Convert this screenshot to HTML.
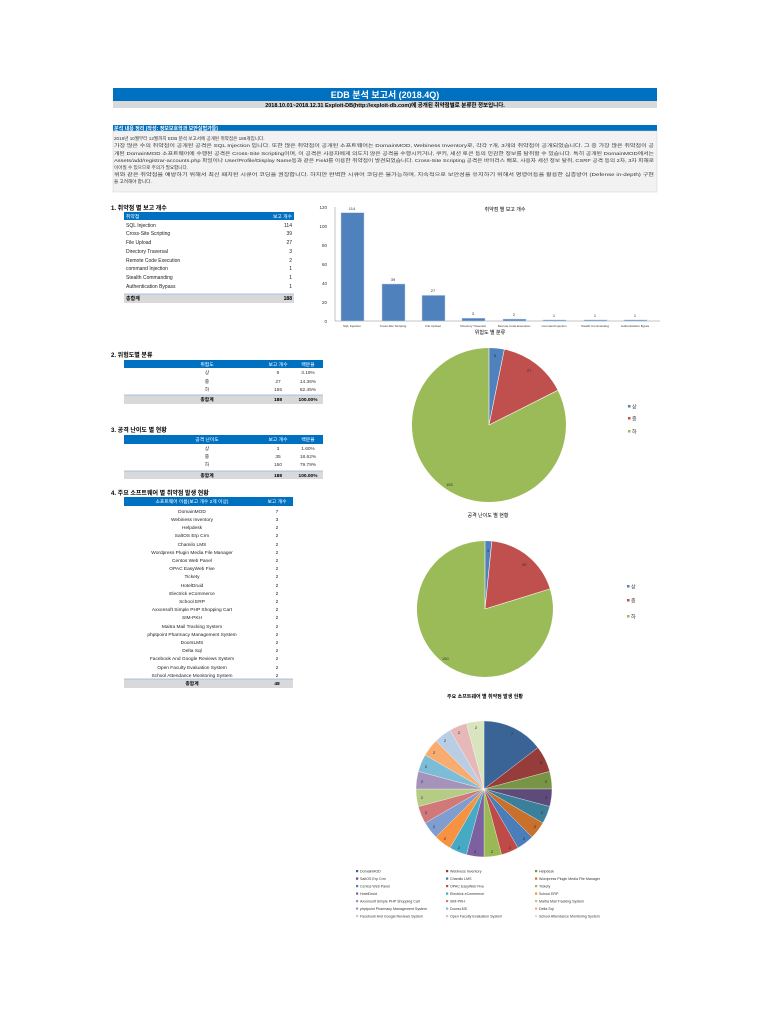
<!DOCTYPE html>
<html><head><meta charset="utf-8"><style>
html,body{margin:0;padding:0;background:#fff;}
svg{display:block;}
text{font-family:"Liberation Sans","Noto Sans CJK KR",sans-serif;}
</style></head><body>
<svg width="770" height="1024" viewBox="0 0 770 1024" xmlns="http://www.w3.org/2000/svg">
<!-- header -->
<rect x="113" y="88" width="544" height="13" fill="#0070C0"/>
<text x="385" y="98" font-size="9" fill="#fff" font-weight="bold" text-anchor="middle">EDB 분석 보고서 (2018.4Q)</text>
<rect x="113" y="101" width="544" height="7" fill="#D9D9D9"/>
<text x="385" y="107" font-size="5.5" font-weight="bold" text-anchor="middle">2018.10.01~2018.12.31 Exploit-DB(http://exploit-db.com)에 공개된 취약점별로 분류한 정보입니다.</text>
<rect x="113" y="125" width="544" height="6" fill="#0070C0"/>
<text x="114" y="130" font-size="5" fill="#fff" font-weight="bold">분석 내용 정리 (작성: 정보보호학과 보안실험가들)</text>
<rect x="113" y="131" width="544" height="61" fill="#F2F2F2" stroke="#D0D0D0" stroke-width="0.5"/>
<g font-size="4.6" fill="#333">
<text x="114" y="140">2018년 10월부터 12월까지 EDB 분석 보고서에 공개된 취약점은 188개입니다.</text>
<text x="114" y="147" textLength="540" lengthAdjust="spacingAndGlyphs">가장 많은 수의 취약점이 공개된 공격은 SQL Injection 입니다. 또한 많은 취약점이 공개된 소프트웨어는 DomainMOD, Webiness Inventory로, 각각 7개, 3개의 취약점이 공개되었습니다. 그 중 가장 많은 취약점이 공</text>
<text x="114" y="155" textLength="540" lengthAdjust="spacingAndGlyphs">개된 DomainMOD 소프트웨어에 수행된 공격은 Cross-Site Scripting이며, 이 공격은 사용자에게 의도치 않은 공격을 수행시키거나, 쿠키, 세션 토큰 등의 민감한 정보를 탈취할 수 있습니다. 특히 공개된 DomainMOD에서는</text>
<text x="114" y="162" textLength="540" lengthAdjust="spacingAndGlyphs">Assets/add/registrar-accounts.php 파일이나 User/Profile/Display Name등과 같은 Field를 이용한 취약점이 발견되었습니다. Cross-Site Scripting 공격은 바이러스 배포, 사용자 세션 정보 탈취, CSRF 공격 등의 2차, 3차 피해로</text>
<text x="114" y="169">이어질 수 있으므로 주의가 필요합니다.</text>
<text x="114" y="176" textLength="540" lengthAdjust="spacingAndGlyphs">위와 같은 취약점을 예방하기 위해서 최신 패치된 시큐어 코딩을 권장합니다. 하지만 완벽한 시큐어 코딩은 불가능하며, 지속적으로 보안성을 유지하기 위해서 명령어등을 활용한 심층방어 (Defense in-depth) 구현</text>
<text x="114" y="183">을 고려해야 합니다.</text>
</g>

<!-- table 1 -->
<text x="111" y="210" font-size="6" font-weight="bold">1. 취약점 별 보고 개수</text>
<rect x="124" y="212" width="170" height="8" fill="#0070C0"/>
<text x="126" y="218" font-size="4.8" fill="#fff">취약점</text>
<text x="292" y="218" font-size="4.8" fill="#fff" text-anchor="end">보고 개수</text>
<g font-size="5" fill="#222">
<text x="126" y="227">SQL Injection</text><text x="292" y="227" text-anchor="end">114</text>
<text x="126" y="235">Cross-Site Scripting</text><text x="292" y="235" text-anchor="end">39</text>
<text x="126" y="244">File Upload</text><text x="292" y="244" text-anchor="end">27</text>
<text x="126" y="253">Directory Traversal</text><text x="292" y="253" text-anchor="end">3</text>
<text x="126" y="262">Remote Code Execution</text><text x="292" y="262" text-anchor="end">2</text>
<text x="126" y="270">command Injection</text><text x="292" y="270" text-anchor="end">1</text>
<text x="126" y="279">Stealth Commanding</text><text x="292" y="279" text-anchor="end">1</text>
<text x="126" y="288">Authentication Bypass</text><text x="292" y="288" text-anchor="end">1</text>
</g>
<rect x="124" y="294" width="170" height="9" fill="#D9D9D9"/>
<line x1="124" y1="294" x2="294" y2="294" stroke="#8EB4E3" stroke-width="0.7"/>
<text x="126" y="300" font-size="5" font-weight="bold">총합계</text>
<text x="292" y="300" font-size="5" font-weight="bold" text-anchor="end">188</text>

<!-- bar chart -->
<text x="505" y="211" font-size="5" text-anchor="middle">취약점 별 보고 개수</text>
<g font-size="4.5" fill="#333" text-anchor="end">
<text x="327" y="209">120</text><text x="327" y="228">100</text><text x="327" y="247">80</text><text x="327" y="266">60</text><text x="327" y="285">40</text><text x="327" y="304">20</text><text x="327" y="323">0</text>
</g>
<line x1="335" y1="207" x2="335" y2="321" stroke="#888" stroke-width="0.5"/>
<line x1="335" y1="321" x2="660" y2="321" stroke="#888" stroke-width="0.5"/>
<g fill="#4F81BD" stroke="#B9CDE5" stroke-width="0.5">
<rect x="341" y="212.7" width="23" height="108.3"/>
<rect x="382" y="284" width="23" height="37"/>
<rect x="422" y="295.4" width="23" height="25.6"/>
<rect x="462" y="318.2" width="23" height="2.8"/>
<rect x="503" y="319.1" width="23" height="1.9"/>
<rect x="543" y="320" width="23" height="1"/>
<rect x="584" y="320" width="23" height="1"/>
<rect x="624" y="320" width="23" height="1"/>
</g>
<g font-size="4" fill="#333" text-anchor="middle">
<text x="352" y="210">114</text><text x="393" y="281">39</text><text x="433" y="292">27</text><text x="473" y="315">3</text><text x="514" y="316">2</text><text x="554" y="317">1</text><text x="595" y="317">1</text><text x="635" y="317">1</text>
</g>
<g font-size="3" fill="#333" text-anchor="middle">
<text x="352" y="327">SQL Injection</text><text x="393" y="327">Cross-Site Scripting</text><text x="433" y="327">File Upload</text><text x="473" y="327">Directory Traversal</text><text x="514" y="327">Remote Code Execution</text><text x="554" y="327">command Injection</text><text x="595" y="327">Stealth Commanding</text><text x="635" y="327">Authentication Bypas</text>
</g>

<!-- table 2 -->
<text x="111" y="357" font-size="6" font-weight="bold">2. 위험도별 분류</text>
<rect x="124" y="360" width="199" height="8" fill="#0070C0"/>
<g font-size="4.8" fill="#fff" text-anchor="middle"><text x="207" y="366">위험도</text><text x="278" y="366">보고 개수</text><text x="308" y="366">백분율</text></g>
<g font-size="4.8" fill="#333" text-anchor="middle">
<text x="207" y="374">상</text><text x="278" y="374">6</text><text x="308" y="374">3.19%</text>
<text x="207" y="383">중</text><text x="278" y="383">27</text><text x="308" y="383">14.36%</text>
<text x="207" y="391">하</text><text x="278" y="391">155</text><text x="308" y="391">82.45%</text>
</g>
<rect x="124" y="395" width="199" height="9" fill="#D9D9D9"/>
<line x1="124" y1="395" x2="323" y2="395" stroke="#8EB4E3" stroke-width="0.7"/>
<g font-size="4.8" font-weight="bold" text-anchor="middle"><text x="207" y="401">총합계</text><text x="278" y="401">188</text><text x="308" y="401">100.00%</text></g>

<!-- table 3 -->
<text x="111" y="432" font-size="6" font-weight="bold">3. 공격 난이도 별 현황</text>
<rect x="124" y="435" width="199" height="9" fill="#0070C0"/>
<g font-size="4.8" fill="#fff" text-anchor="middle"><text x="207" y="441">공격 난이도</text><text x="278" y="441">보고 개수</text><text x="308" y="441">백분율</text></g>
<g font-size="4.8" fill="#333" text-anchor="middle">
<text x="207" y="450">상</text><text x="278" y="450">3</text><text x="308" y="450">1.60%</text>
<text x="207" y="458">중</text><text x="278" y="458">35</text><text x="308" y="458">18.62%</text>
<text x="207" y="466">하</text><text x="278" y="466">150</text><text x="308" y="466">79.79%</text>
</g>
<rect x="124" y="471" width="199" height="8" fill="#D9D9D9"/>
<line x1="124" y1="471" x2="323" y2="471" stroke="#8EB4E3" stroke-width="0.7"/>
<g font-size="4.8" font-weight="bold" text-anchor="middle"><text x="207" y="477">총합계</text><text x="278" y="477">188</text><text x="308" y="477">100.00%</text></g>

<!-- table 4 -->
<text x="111" y="495" font-size="6" font-weight="bold">4. 주요 소프트웨어 별 취약점 발생 현황</text>
<rect x="124" y="497" width="169" height="9" fill="#0070C0"/>
<g font-size="4.8" fill="#fff" text-anchor="middle"><text x="192" y="503">소프트웨어 이름(보고 개수 2개 이상)</text><text x="277" y="503">보고 개수</text></g>
<g font-size="4.8" fill="#222" text-anchor="middle">
<text x="192" y="513">DomainMOD</text><text x="277" y="513">7</text>
<text x="192" y="521">Webiness Inventory</text><text x="277" y="521">3</text>
<text x="192" y="529">Helpdesk</text><text x="277" y="529">2</text>
<text x="192" y="537">SaltOS Erp Crm</text><text x="277" y="537">2</text>
<text x="192" y="546">Chamilo LMS</text><text x="277" y="546">2</text>
<text x="192" y="554">Wordpress Plugin Media File Manager</text><text x="277" y="554">2</text>
<text x="192" y="562">Centos Web Panel</text><text x="277" y="562">2</text>
<text x="192" y="570">OPAC EasyWeb Five</text><text x="277" y="570">2</text>
<text x="192" y="578">Tickety</text><text x="277" y="578">2</text>
<text x="192" y="587">HotelDruid</text><text x="277" y="587">2</text>
<text x="192" y="595">Electrick eCommerce</text><text x="277" y="595">2</text>
<text x="192" y="603">School ERP</text><text x="277" y="603">2</text>
<text x="192" y="611">Axxonsoft Simple PHP Shopping Cart</text><text x="277" y="611">2</text>
<text x="192" y="619">SIM-PKH</text><text x="277" y="619">2</text>
<text x="192" y="628">Maitra Mail Tracking System</text><text x="277" y="628">2</text>
<text x="192" y="636">phptpoint Pharmacy Management System</text><text x="277" y="636">2</text>
<text x="192" y="644">DoorsLMS</text><text x="277" y="644">2</text>
<text x="192" y="652">Delta Sql</text><text x="277" y="652">2</text>
<text x="192" y="660">Facebook And Google Reviews System</text><text x="277" y="660">2</text>
<text x="192" y="669">Open Faculty Evaluation System</text><text x="277" y="669">2</text>
<text x="192" y="677">School Attendance Monitoring System</text><text x="277" y="677">2</text>
</g>
<rect x="124" y="679" width="169" height="9" fill="#D9D9D9"/>
<line x1="124" y1="679" x2="293" y2="679" stroke="#8EB4E3" stroke-width="0.7"/>
<g font-size="4.8" font-weight="bold" text-anchor="middle"><text x="192" y="685">총합계</text><text x="277" y="685">48</text></g>

<!-- pie 1 -->
<text x="490" y="334" font-size="5" text-anchor="middle">위험도 별 분류</text>
<path d="M489,425 L489,348 A77,77 0 0 1 504.3,349.5 Z" fill="#4F81BD"/>
<path d="M489,425 L504.3,349.5 A77,77 0 0 1 557.7,390.3 Z" fill="#C0504D"/>
<path d="M489,425 L557.7,390.3 A77,77 0 1 1 489,348 Z" fill="#9BBB59"/>
<g stroke="#fff" stroke-width="0.6" fill="none"><line x1="489" y1="425" x2="489" y2="348"/><line x1="489" y1="425" x2="504.3" y2="349.5"/><line x1="489" y1="425" x2="557.7" y2="390.3"/></g>
<g font-size="4" fill="#333"><text x="494" y="357">6</text><text x="527" y="372">27</text><text x="446" y="486">155</text></g>
<g font-size="5" fill="#333"><rect x="628" y="405" width="2.5" height="2.5" fill="#4F81BD"/><text x="632" y="408.5">상</text>
<rect x="628" y="417" width="2.5" height="2.5" fill="#C0504D"/><text x="632" y="420.5">중</text>
<rect x="628" y="430" width="2.5" height="2.5" fill="#9BBB59"/><text x="632" y="433.5">하</text></g>

<!-- pie 2 -->
<text x="488" y="517" font-size="5" text-anchor="middle">공격 난이도 별 현황</text>
<path d="M485,609 L485,541 A68,68 0 0 1 491.8,541.3 Z" fill="#4F81BD"/>
<path d="M485,609 L491.8,541.3 A68,68 0 0 1 549.9,588.9 Z" fill="#C0504D"/>
<path d="M485,609 L549.9,588.9 A68,68 0 1 1 485,541 Z" fill="#9BBB59"/>
<g stroke="#fff" stroke-width="0.6" fill="none"><line x1="485" y1="609" x2="485" y2="541"/><line x1="485" y1="609" x2="491.8" y2="541.3"/><line x1="485" y1="609" x2="549.9" y2="588.9"/></g>
<g font-size="4" fill="#333"><text x="487" y="552">3</text><text x="522" y="566">35</text><text x="442" y="660">150</text></g>
<g font-size="5" fill="#333"><rect x="627" y="585" width="2.5" height="2.5" fill="#4F81BD"/><text x="631" y="588.5">상</text>
<rect x="627" y="599" width="2.5" height="2.5" fill="#C0504D"/><text x="631" y="602.5">중</text>
<rect x="627" y="615" width="2.5" height="2.5" fill="#9BBB59"/><text x="631" y="618.5">하</text></g>

<!-- pie 3 -->
<text x="485" y="698" font-size="5" text-anchor="middle" font-weight="bold">주요 소프트웨어 별 취약점 발생 현황</text>
<g stroke="#fff" stroke-width="0.3">
<path d="M484,789 L484,721 A68,68 0 0 1 537.95,747.6 Z" fill="#3A6496"/>
<path d="M484,789 L537.95,747.6 A68,68 0 0 1 549.68,771.4 Z" fill="#963C3A"/>
<path d="M484,789 L549.68,771.4 A68,68 0 0 1 552,789 Z" fill="#779544"/>
<path d="M484,789 L552,789 A68,68 0 0 1 549.68,806.6 Z" fill="#5F4A7C"/>
<path d="M484,789 L549.68,806.6 A68,68 0 0 1 542.89,823 Z" fill="#3A809A"/>
<path d="M484,789 L542.89,823 A68,68 0 0 1 532.08,837.08 Z" fill="#C8702C"/>
<path d="M484,789 L532.08,837.08 A68,68 0 0 1 518,847.89 Z" fill="#4A7EBB"/>
<path d="M484,789 L518,847.89 A68,68 0 0 1 501.6,854.68 Z" fill="#BE4B48"/>
<path d="M484,789 L501.6,854.68 A68,68 0 0 1 484,857 Z" fill="#98B954"/>
<path d="M484,789 L484,857 A68,68 0 0 1 466.4,854.68 Z" fill="#7D60A0"/>
<path d="M484,789 L466.4,854.68 A68,68 0 0 1 450,847.89 Z" fill="#46AAC5"/>
<path d="M484,789 L450,847.89 A68,68 0 0 1 435.92,837.08 Z" fill="#F69240"/>
<path d="M484,789 L435.92,837.08 A68,68 0 0 1 425.11,823 Z" fill="#7F9ECF"/>
<path d="M484,789 L425.11,823 A68,68 0 0 1 418.32,806.6 Z" fill="#D1797A"/>
<path d="M484,789 L418.32,806.6 A68,68 0 0 1 416,789 Z" fill="#B4CC84"/>
<path d="M484,789 L416,789 A68,68 0 0 1 418.32,771.4 Z" fill="#A593BB"/>
<path d="M484,789 L418.32,771.4 A68,68 0 0 1 425.11,755 Z" fill="#7CBCD6"/>
<path d="M484,789 L425.11,755 A68,68 0 0 1 435.92,740.92 Z" fill="#F9AC6F"/>
<path d="M484,789 L435.92,740.92 A68,68 0 0 1 450,730.11 Z" fill="#B9CDE5"/>
<path d="M484,789 L450,730.11 A68,68 0 0 1 466.4,723.32 Z" fill="#E6B9B8"/>
<path d="M484,789 L466.4,723.32 A68,68 0 0 1 484,721 Z" fill="#D7E4BD"/>
</g>
<g font-size="4" fill="#222" text-anchor="middle">
<text x="512" y="735">7</text><text x="541" y="764">3</text><text x="546" y="783">2</text>
<text x="546" y="799">2</text><text x="542" y="814">2</text><text x="535" y="828">2</text><text x="524" y="840">2</text><text x="510" y="849">2</text><text x="492" y="853">2</text>
<text x="475" y="853">2</text><text x="459" y="849">2</text><text x="445" y="840">2</text><text x="434" y="828">2</text><text x="426" y="814">2</text><text x="422" y="799">2</text>
<text x="422" y="783">2</text><text x="426" y="768">2</text><text x="434" y="754">2</text><text x="445" y="742">2</text><text x="459" y="734">2</text><text x="476" y="729">2</text>
</g>
<!-- legend -->
<g font-size="3.6" fill="#333">
<rect x="356" y="870" width="2.2" height="2.2" fill="#3A6496"/><text x="360" y="872.5">DomainMOD</text>
<rect x="446" y="870" width="2.2" height="2.2" fill="#963C3A"/><text x="450" y="872.5">Webiness Inventory</text>
<rect x="535" y="870" width="2.2" height="2.2" fill="#779544"/><text x="539" y="872.5">Helpdesk</text>
<rect x="356" y="877.5" width="2.2" height="2.2" fill="#5F4A7C"/><text x="360" y="880">SaltOS Erp Crm</text>
<rect x="446" y="877.5" width="2.2" height="2.2" fill="#3A809A"/><text x="450" y="880">Chamilo LMS</text>
<rect x="535" y="877.5" width="2.2" height="2.2" fill="#C8702C"/><text x="539" y="880">Wordpress Plugin Media File Manager</text>
<rect x="356" y="885" width="2.2" height="2.2" fill="#4A7EBB"/><text x="360" y="887.5">Centos Web Panel</text>
<rect x="446" y="885" width="2.2" height="2.2" fill="#BE4B48"/><text x="450" y="887.5">OPAC EasyWeb Five</text>
<rect x="535" y="885" width="2.2" height="2.2" fill="#98B954"/><text x="539" y="887.5">Tickety</text>
<rect x="356" y="892.5" width="2.2" height="2.2" fill="#7D60A0"/><text x="360" y="895">HotelDruid</text>
<rect x="446" y="892.5" width="2.2" height="2.2" fill="#46AAC5"/><text x="450" y="895">Electrick eCommerce</text>
<rect x="535" y="892.5" width="2.2" height="2.2" fill="#F69240"/><text x="539" y="895">School ERP</text>
<rect x="356" y="900" width="2.2" height="2.2" fill="#7F9ECF"/><text x="360" y="902.5">Axxonsoft Simple PHP Shopping Cart</text>
<rect x="446" y="900" width="2.2" height="2.2" fill="#D1797A"/><text x="450" y="902.5">SIM-PKH</text>
<rect x="535" y="900" width="2.2" height="2.2" fill="#B4CC84"/><text x="539" y="902.5">Maitra Mail Tracking System</text>
<rect x="356" y="907.5" width="2.2" height="2.2" fill="#A593BB"/><text x="360" y="910">phptpoint Pharmacy Management System</text>
<rect x="446" y="907.5" width="2.2" height="2.2" fill="#7CBCD6"/><text x="450" y="910">DoorsLMS</text>
<rect x="535" y="907.5" width="2.2" height="2.2" fill="#F9AC6F"/><text x="539" y="910">Delta Sql</text>
<rect x="356" y="915" width="2.2" height="2.2" fill="#B9CDE5"/><text x="360" y="917.5">Facebook And Google Reviews System</text>
<rect x="446" y="915" width="2.2" height="2.2" fill="#E6B9B8"/><text x="450" y="917.5">Open Faculty Evaluation System</text>
<rect x="535" y="915" width="2.2" height="2.2" fill="#D7E4BD"/><text x="539" y="917.5">School Attendance Monitoring System</text>
</g>
</svg>
</body></html>
